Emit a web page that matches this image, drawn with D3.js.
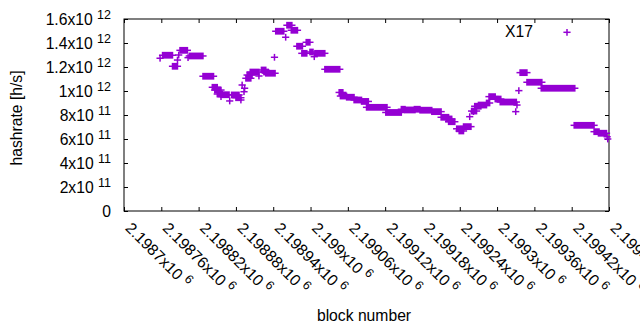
<!DOCTYPE html>
<html><head><meta charset="utf-8">
<script src="https://cdn.jsdelivr.net/npm/d3@7"></script>
<style>
body{margin:0;background:#fff}
svg{display:block}
text{font-family:"Liberation Sans",Arial,sans-serif;fill:#000}
</style>
</head><body>
<svg id="chart" width="640" height="330"></svg>
<script>
// Runs of blocks over which the X17 hashrate estimate stays constant
const runStart = [2198758,2198762,2198778,2198786,2198788,2198790,2198803,2198805,2198827,2198842,
  2198846,2198850,2198856,2198856,2198870,2198873,2198880,2198888,2198890,2198894,
  2198893,2198896,2198898,2198903,2198917,2198921,2198925,2198928,2198942,2198944,
  2198960,2198962,2198969,2198978,2198986,2198993,2198999,2199006,2199007,2199023,
  2199046,2199048,2199058,2199070,2199082,2199090,2199121,2199146,2199152,2199167,
  2199176,2199195,2199210,2199218,2199222,2199235,2199239,2199246,2199256,2199259,
  2199262,2199264,2199270,2199283,2199287,2199297,2199305,2199332,2199330,2199335,
  2199337,2199348,2199371,2199424,2199456,2199463,2199477,2199478];
const runEnd = [2198758,2198778,2198786,2198786,2198788,2198802,2198803,2198827,2198844,2198850,
  2198856,2198858,2198869,2198856,2198870,2198885,2198888,2198888,2198890,2198894,
  2198893,2198904,2198906,2198917,2198917,2198928,2198932,2198943,2198942,2198957,
  2198960,2198970,2198979,2198987,2198994,2198999,2199004,2199006,2199023,2199047,
  2199052,2199058,2199070,2199082,2199093,2199123,2199146,2199152,2199168,2199176,
  2199195,2199210,2199222,2199227,2199232,2199246,2199246,2199258,2199256,2199267,
  2199262,2199274,2199283,2199288,2199297,2199306,2199331,2199332,2199330,2199335,
  2199348,2199372,2199425,2199456,2199464,2199476,2199477,2199478];
const hashrate = [1.273e12,1.298e12,1.206e12,1.258e12,1.300e12,1.339e12,1.278e12,1.292e12,1.123e12,1.031e12,
  1.008e12,0.975e12,0.969e12,0.953e12,0.917e12,0.967e12,0.944e12,0.925e12,1.050e12,1.023e12,
  0.994e12,1.106e12,1.133e12,1.158e12,1.125e12,1.175e12,1.158e12,1.148e12,1.281e12,1.498e12,
  1.448e12,1.548e12,1.506e12,1.373e12,1.314e12,1.406e12,1.325e12,1.286e12,1.314e12,1.181e12,
  0.988e12,0.958e12,0.948e12,0.925e12,0.913e12,0.864e12,0.821e12,0.848e12,0.842e12,0.848e12,
  0.840e12,0.828e12,0.781e12,0.767e12,0.744e12,0.685e12,0.667e12,0.703e12,0.786e12,0.833e12,
  0.828e12,0.873e12,0.883e12,0.900e12,0.953e12,0.933e12,0.908e12,0.883e12,0.828e12,1.003e12,
  1.153e12,1.073e12,1.023e12,0.714e12,0.661e12,0.648e12,0.619e12,0.600e12];

const xTicks = [2198700,2198760,2198820,2198880,2198940,2199000,2199060,2199120,2199180,2199240,2199300,2199360,2199420,2199480];
const xTickMantissa = ["2.1987","2.19876","2.19882","2.19888","2.19894","2.199","2.19906","2.19912","2.19918","2.19924","2.1993","2.19936","2.19942","2.19948"];
const xTickExponent = ["6","6","6","6","6","6","6","6","6","6","6","6","6","6"];
const yTicks = [0,2e11,4e11,6e11,8e11,1e12,1.2e12,1.4e12,1.6e12];
const yTickMantissa = ["0","2","4","6","8","1","1.2","1.4","1.6"];
const yTickExponent = ["","11","11","11","11","12","12","12","12"];
const seriesName = "X17";
const color = "#9400D3";

const L = 124, R = 609, T = 19, B = 211;
const FS = 15.7, SFS = 12.5;
const svg = d3.select("#chart");
const x = d3.scaleLinear().domain([2198700, 2199480]).range([L, R]);
const y = d3.scaleLinear().domain([0, 1.6e12]).range([B, T]);

// axes with inward ticks (mirrored)
function styleAxis(g){ g.select(".domain").remove(); g.selectAll("line").attr("stroke","#000"); g.selectAll("text").remove(); }
svg.append("g").attr("transform",`translate(0,${B})`)
  .call(d3.axisBottom(x).tickValues(xTicks).tickSizeInner(-4).tickSizeOuter(0).tickFormat("")).call(styleAxis);
svg.append("g").attr("transform",`translate(0,${T})`)
  .call(d3.axisTop(x).tickValues(xTicks).tickSizeInner(-4).tickSizeOuter(0).tickFormat("")).call(styleAxis);
svg.append("g").attr("transform",`translate(${L},0)`)
  .call(d3.axisLeft(y).tickValues(yTicks).tickSizeInner(-4).tickSizeOuter(0).tickFormat("")).call(styleAxis);
svg.append("g").attr("transform",`translate(${R},0)`)
  .call(d3.axisRight(y).tickValues(yTicks).tickSizeInner(-4).tickSizeOuter(0).tickFormat("")).call(styleAxis);

svg.append("rect").attr("x",L).attr("y",T).attr("width",R-L).attr("height",B-T)
  .attr("fill","none").attr("stroke","#000").attr("stroke-width",1);

// y tick labels
yTicks.forEach((v,i)=>{
  const t = svg.append("text").attr("x",111).attr("y",y(v)+5.6).attr("text-anchor","end").attr("font-size",FS);
  if(yTickExponent[i]){
    t.append("tspan").text(yTickMantissa[i]+"x10 ");
    t.append("tspan").attr("font-size",SFS).attr("dy",-6).text(yTickExponent[i]);
  } else t.text(yTickMantissa[i]);
});

// x tick labels, rotated
xTicks.forEach((v,i)=>{
  const t = svg.append("text").attr("transform",`translate(${x(v)+0.5},229) rotate(45)`).attr("font-size",FS);
  t.append("tspan").text(xTickMantissa[i]+"x10 ");
  t.append("tspan").attr("font-size",SFS).attr("dy",-6).text(xTickExponent[i]);
});

// axis titles
svg.append("text").attr("transform","translate(22,118) rotate(-90)").attr("text-anchor","middle").attr("font-size",FS).text("hashrate [h/s]");
svg.append("text").attr("x",364).attr("y",321).attr("text-anchor","middle").attr("font-size",FS).text("block number");

// points: '+' marks, runs of identical values merge into bars
const runs = runStart.map((s,i)=>({s, e:runEnd[i], v:hashrate[i]}));
const gp = svg.append("g");
gp.selectAll("line.h").data(runs).join("line").attr("class","h")
  .attr("x1",d=>x(d.s)-3.6).attr("x2",d=>x(d.e)+3.6)
  .attr("y1",d=>y(d.v)).attr("y2",d=>y(d.v))
  .attr("stroke",color).attr("stroke-width",1.5);
gp.selectAll("rect.b").data(runs).join("rect").attr("class","b")
  .attr("x",d=>x(d.s)-0.75).attr("width",d=>x(d.e)-x(d.s)+1.5)
  .attr("y",d=>y(d.v)-3.4).attr("height",6.8)
  .attr("fill",color);

// legend
svg.append("text").attr("x",533).attr("y",37).attr("text-anchor","end").attr("font-size",FS).text(seriesName);
svg.append("line").attr("x1",563.4).attr("x2",570.6).attr("y1",32.3).attr("y2",32.3).attr("stroke",color).attr("stroke-width",1.5);
svg.append("line").attr("x1",567).attr("x2",567).attr("y1",28.9).attr("y2",35.7).attr("stroke",color).attr("stroke-width",1.5);
</script>
</body></html>
